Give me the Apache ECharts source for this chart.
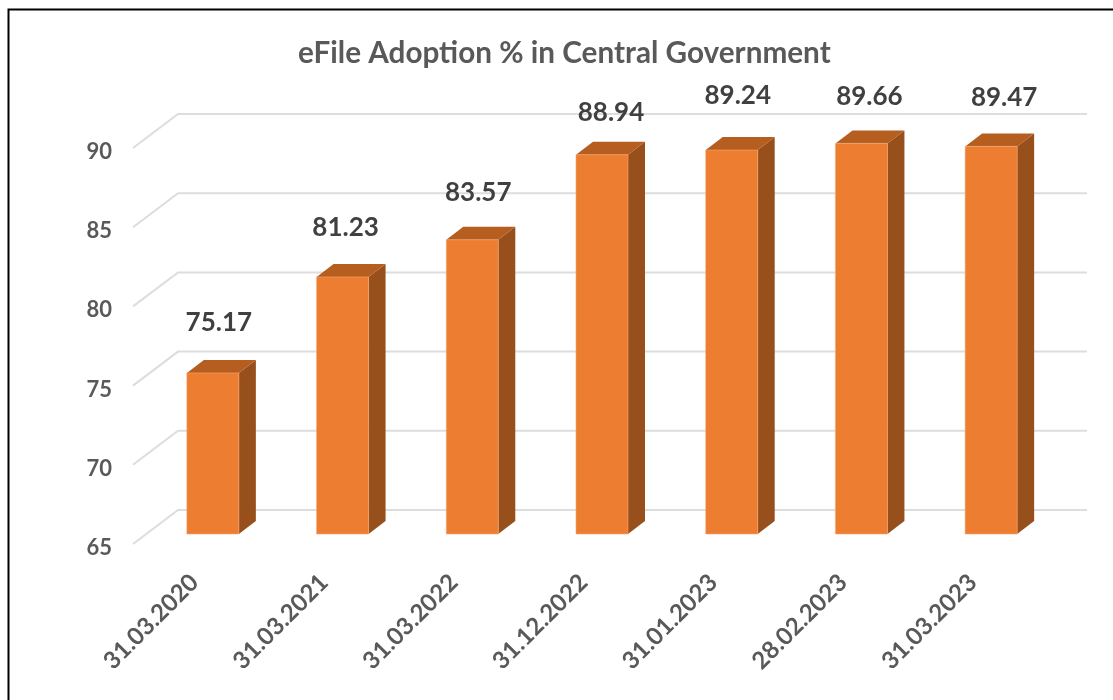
<!DOCTYPE html>
<html>
<head>
<meta charset="utf-8">
<style>
  html, body { margin: 0; padding: 0; background: #fff; }
  #chart { width: 1113px; height: 700px; }
</style>
<script src="https://cdn.jsdelivr.net/npm/echarts@6/dist/echarts.min.js"></script>
</head>
<body>
<div id="chart"></div>
<script>
const categories = ['31.03.2020', '31.03.2021', '31.03.2022', '31.12.2022', '31.01.2023', '28.02.2023', '31.03.2023'];
const adoption = [75.17, 81.23, 83.57, 88.94, 89.24, 89.66, 89.47];
const yTicks = [65, 70, 75, 80, 85, 90];

// hand placed labels in the original, pixels from the top of the bar
const LABEL_DX = [6, 3, 6, 9, 6, 8, 13];
const LABEL_DY = [-50, -49, -47, -42, -54, -47, -49];

const FONT = 'Lato, "Open Sans", sans-serif';
const DEPTH_X = 17, DEPTH_Y = -13;   // bar depth
const BAR_W = 52;
const BAR_LIFT = 14;    // bars sit above the tick position
const WALL_LIFT = 4;    // so do the wall lines, the tick labels hang a little lower

function renderBar(params, api) {
  const i = api.value(0);
  const top = api.coord([i, api.value(1)]);
  const base = api.coord([i, 65]);
  const x0 = top[0] - BAR_W / 2, x1 = top[0] + BAR_W / 2;
  const yt = top[1] - BAR_LIFT, yb = base[1] - BAR_LIFT;
  return {
    type: 'group',
    children: [
      { type: 'polygon', shape: { points: [[x1, yt], [x1 + DEPTH_X, yt + DEPTH_Y], [x1 + DEPTH_X, yb + DEPTH_Y], [x1, yb]] },
        style: { fill: '#974F1C' } },
      { type: 'polygon', shape: { points: [[x0, yt], [x0 + DEPTH_X, yt + DEPTH_Y], [x1 + DEPTH_X, yt + DEPTH_Y], [x1, yt]] },
        style: { fill: '#B55E20' } },
      { type: 'rect', shape: { x: x0, y: yt, width: BAR_W, height: yb - yt },
        style: { fill: '#ED7D31', stroke: 'rgba(243,168,115,0.6)', lineWidth: 1 } },
      { type: 'text', x: top[0] + LABEL_DX[i], y: yt + LABEL_DY[i],
        style: { text: api.value(1).toFixed(2), font: 'bold 26px ' + FONT, fill: '#404040', align: 'center', verticalAlign: 'middle' } }
    ]
  };
}

function renderWall(params, api) {
  const p = api.coord([0, api.value(0)]);
  const y = p[1] - WALL_LIFT;
  return {
    type: 'polyline',
    shape: { points: [[133, y], [178, y - 34], [1087, y - 34]] },
    style: { fill: 'none', stroke: '#DDDDDD', lineWidth: 2 }
  };
}

const chart = echarts.init(document.getElementById('chart'), null, { renderer: 'canvas' });
chart.setOption({
  animation: false,
  backgroundColor: '#fff',
  title: {
    text: 'eFile Adoption % in Central Government',
    left: 293, top: 33,
    textStyle: { fontFamily: FONT, fontWeight: 'bold', fontSize: 29.7, color: '#595959' }
  },
  graphic: [{
    type: 'polyline',
    shape: { points: [[8.5, 700], [8.5, 9.5], [1113, 9.5]] },
    style: { fill: 'none', stroke: '#000', lineWidth: 2 }
  }],
  grid: { left: 148, right: 57, top: 152, bottom: 152 },
  xAxis: {
    type: 'category',
    data: categories,
    axisLine: { show: false },
    axisTick: { show: false },
    axisLabel: { rotate: 45, margin: 12, interval: 0, padding: [0, 26, 0, 0], fontFamily: FONT, fontWeight: 'bold', fontSize: 24, color: '#595959' }
  },
  yAxis: {
    type: 'value',
    min: 65, max: 90, interval: 5,
    axisLine: { show: false },
    axisTick: { show: false },
    splitLine: { show: false },
    axisLabel: { margin: 36, fontFamily: FONT, fontWeight: 'bold', fontSize: 22, color: '#595959' }
  },
  series: [
    { type: 'custom', renderItem: renderWall, data: yTicks.map(v => [v]), encode: { y: 0 }, silent: true, z: 1 },
    { type: 'custom', renderItem: renderBar, data: adoption.map((v, i) => [i, v]), encode: { x: 0, y: 1 }, z: 2 }
  ]
});
</script>
</body>
</html>
